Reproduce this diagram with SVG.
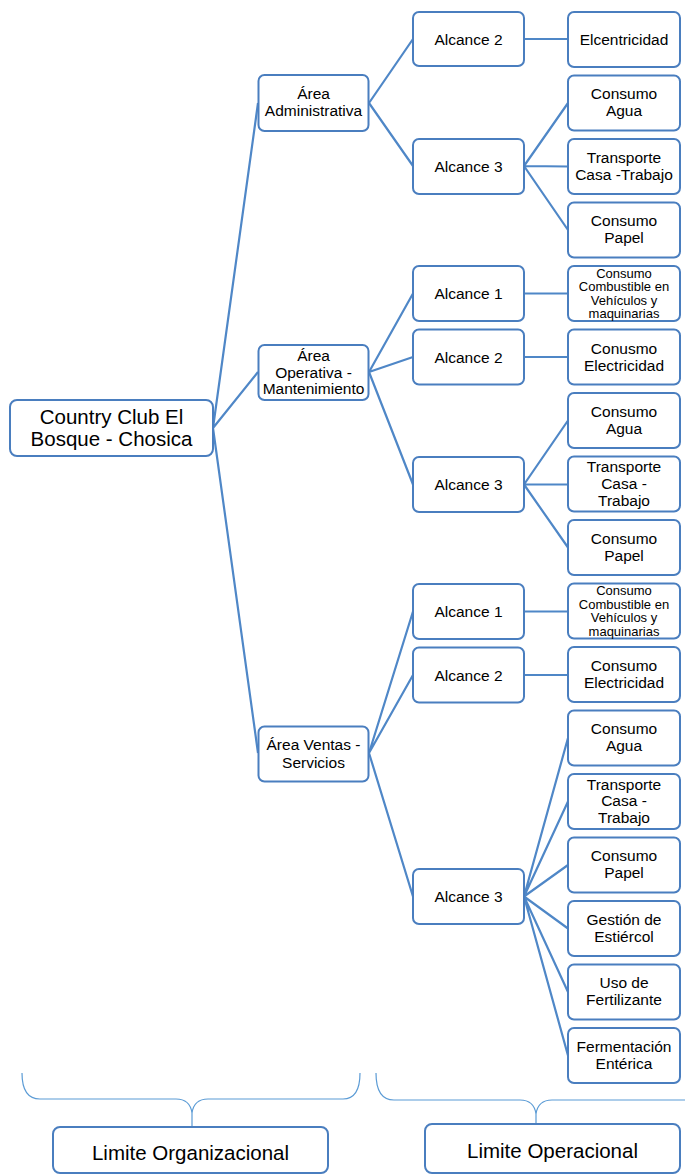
<svg xmlns="http://www.w3.org/2000/svg" width="685" height="1174" viewBox="0 0 685 1174">
<style>
.box{fill:#fff;stroke:#4a7ebf;stroke-width:2}
.t{font-family:"Liberation Sans",Arial,sans-serif;font-size:15.5px;text-anchor:middle;fill:#000}
.s{font-family:"Liberation Sans",Arial,sans-serif;font-size:13px;text-anchor:middle;fill:#000}
.r{font-family:"Liberation Sans",Arial,sans-serif;font-size:20.5px;text-anchor:middle;fill:#000}
.c{stroke:#4f87c7;stroke-width:2.2;fill:none}
.b{stroke:#5b9bd5;stroke-width:1.2;fill:none}
</style>
<rect width="685" height="1174" fill="#fff"/>
<g id="connectors">
<path class="c" d="M213,428 L258,103 M213,428 L258,372 M213,428 L258,753"/>
<path class="c" d="M369,103 L413,39 M369,103 L413,166 M524,39 L568,39 M524,166 L568,103 M524,166 L568,166.5 M524,166 L568,230"/>
<path class="c" d="M369,372 L413,293.5 M369,372 L413,357 M369,372 L413,484.5 M524,293.5 L568,293.5 M524,357 L568,357 M524,484.5 L568,420.5 M524,484.5 L568,484.5 M524,484.5 L568,547.5"/>
<path class="c" d="M369,753 L413,611.5 M369,753 L413,675 M369,753 L413,896.5 M524,611.5 L568,611.5 M524,675 L568,675 M524,896.5 L568,738 M524,896.5 L568,801.5 M524,896.5 L568,865 M524,896.5 L568,928.5 M524,896.5 L568,992 M524,896.5 L568,1055.5"/>
</g>
<g id="root"><rect class="box" x="10" y="400" width="203" height="56" rx="7"/><text class="r" x="111.5" y="424">Country Club El</text><text class="r" x="111.5" y="446">Bosque - Chosica</text></g>
<g id="area-admin"><rect class="box" x="258.5" y="75" width="110" height="56" rx="6"/><text class="t" x="313.5" y="99">Área</text><text class="t" x="313.5" y="116">Administrativa</text></g>
<g id="area-operativa"><rect class="box" x="258.5" y="345" width="110" height="55" rx="6"/><text class="t" x="313.5" y="361">Área</text><text class="t" x="313.5" y="378">Operativa -</text><text class="t" x="313.5" y="394">Mantenimiento</text></g>
<g id="area-ventas"><rect class="box" x="258.5" y="726.5" width="110" height="55" rx="6"/><text class="t" x="313.5" y="750">Área Ventas -</text><text class="t" x="313.5" y="768">Servicios</text></g>
<g id="adm-a2"><rect class="box" x="413" y="12" width="111" height="54" rx="6"/><text class="t" x="468.5" y="44.5">Alcance 2</text></g>
<g id="adm-a3"><rect class="box" x="413" y="139" width="111" height="55" rx="6"/><text class="t" x="468.5" y="172">Alcance 3</text></g>
<g id="op-a1"><rect class="box" x="413" y="266" width="111" height="55" rx="6"/><text class="t" x="468.5" y="299">Alcance 1</text></g>
<g id="op-a2"><rect class="box" x="413" y="329.5" width="111" height="55" rx="6"/><text class="t" x="468.5" y="362.5">Alcance 2</text></g>
<g id="op-a3"><rect class="box" x="413" y="457" width="111" height="55" rx="6"/><text class="t" x="468.5" y="490">Alcance 3</text></g>
<g id="ve-a1"><rect class="box" x="413" y="584" width="111" height="55" rx="6"/><text class="t" x="468.5" y="617">Alcance 1</text></g>
<g id="ve-a2"><rect class="box" x="413" y="647.5" width="111" height="55" rx="6"/><text class="t" x="468.5" y="680.5">Alcance 2</text></g>
<g id="ve-a3"><rect class="box" x="413" y="869" width="111" height="55" rx="6"/><text class="t" x="468.5" y="902">Alcance 3</text></g>
<g id="l0"><rect class="box" x="568" y="12" width="112" height="55" rx="6"/><text class="t" x="624" y="45">Elcentricidad</text></g>
<g id="l1"><rect class="box" x="568" y="75.5" width="112" height="55" rx="6"/><text class="t" x="624" y="99">Consumo</text><text class="t" x="624" y="116">Agua</text></g>
<g id="l2"><rect class="box" x="568" y="139" width="112" height="55" rx="6"/><text class="t" x="624" y="163">Transporte</text><text class="t" x="624" y="180">Casa -Trabajo</text></g>
<g id="l3"><rect class="box" x="568" y="202.5" width="112" height="55" rx="6"/><text class="t" x="624" y="226">Consumo</text><text class="t" x="624" y="243">Papel</text></g>
<g id="l4"><rect class="box" x="568" y="266" width="112" height="55" rx="6"/><text class="s" x="624" y="277.5">Consumo</text><text class="s" x="624" y="291">Combustible en</text><text class="s" x="624" y="304.5">Vehículos y</text><text class="s" x="624" y="318">maquinarias</text></g>
<g id="l5"><rect class="box" x="568" y="329.5" width="112" height="55" rx="6"/><text class="t" x="624" y="353.5">Conusmo</text><text class="t" x="624" y="370.5">Electricidad</text></g>
<g id="l6"><rect class="box" x="568" y="393" width="112" height="55" rx="6"/><text class="t" x="624" y="417">Consumo</text><text class="t" x="624" y="434">Agua</text></g>
<g id="l7"><rect class="box" x="568" y="456.5" width="112" height="55" rx="6"/><text class="t" x="624" y="472">Transporte</text><text class="t" x="624" y="489">Casa -</text><text class="t" x="624" y="506">Trabajo</text></g>
<g id="l8"><rect class="box" x="568" y="520" width="112" height="55" rx="6"/><text class="t" x="624" y="544">Consumo</text><text class="t" x="624" y="561">Papel</text></g>
<g id="l9"><rect class="box" x="568" y="583.5" width="112" height="55" rx="6"/><text class="s" x="624" y="595">Consumo</text><text class="s" x="624" y="608.5">Combustible en</text><text class="s" x="624" y="622">Vehículos y</text><text class="s" x="624" y="635.5">maquinarias</text></g>
<g id="l10"><rect class="box" x="568" y="647" width="112" height="55" rx="6"/><text class="t" x="624" y="671">Consumo</text><text class="t" x="624" y="688">Electricidad</text></g>
<g id="l11"><rect class="box" x="568" y="710.5" width="112" height="55" rx="6"/><text class="t" x="624" y="734">Consumo</text><text class="t" x="624" y="751">Agua</text></g>
<g id="l12"><rect class="box" x="568" y="774" width="112" height="55" rx="6"/><text class="t" x="624" y="789.5">Transporte</text><text class="t" x="624" y="806">Casa -</text><text class="t" x="624" y="823">Trabajo</text></g>
<g id="l13"><rect class="box" x="568" y="837.5" width="112" height="55" rx="6"/><text class="t" x="624" y="861">Consumo</text><text class="t" x="624" y="878">Papel</text></g>
<g id="l14"><rect class="box" x="568" y="901" width="112" height="55" rx="6"/><text class="t" x="624" y="925">Gestión de</text><text class="t" x="624" y="942">Estiércol</text></g>
<g id="l15"><rect class="box" x="568" y="964.5" width="112" height="55" rx="6"/><text class="t" x="624" y="988">Uso de</text><text class="t" x="624" y="1005">Fertilizante</text></g>
<g id="l16"><rect class="box" x="568" y="1028" width="112" height="55" rx="6"/><text class="t" x="624" y="1052">Fermentación</text><text class="t" x="624" y="1069">Entérica</text></g>
<g id="braces">
<path class="b" d="M22,1073 Q22,1099 40,1099 L176,1099 Q190,1099 192,1113 L192,1126 M192,1113 Q194,1099 208,1099 L343,1099 Q360,1099 360,1073"/>
<path class="b" d="M376,1073 Q376,1100 394,1100 L520,1100 Q534,1100 536,1114 L536,1124 M536,1114 Q538,1100 552,1100 L700,1100"/>
</g>
<g id="limite-org"><rect class="box" x="53" y="1127" width="275" height="46" rx="7"/><text class="r" x="190.5" y="1160">Limite Organizacional</text></g>
<g id="limite-op"><rect class="box" x="425" y="1124" width="255" height="49" rx="7"/><text class="r" x="552.5" y="1158">Limite Operacional</text></g>
</svg>
